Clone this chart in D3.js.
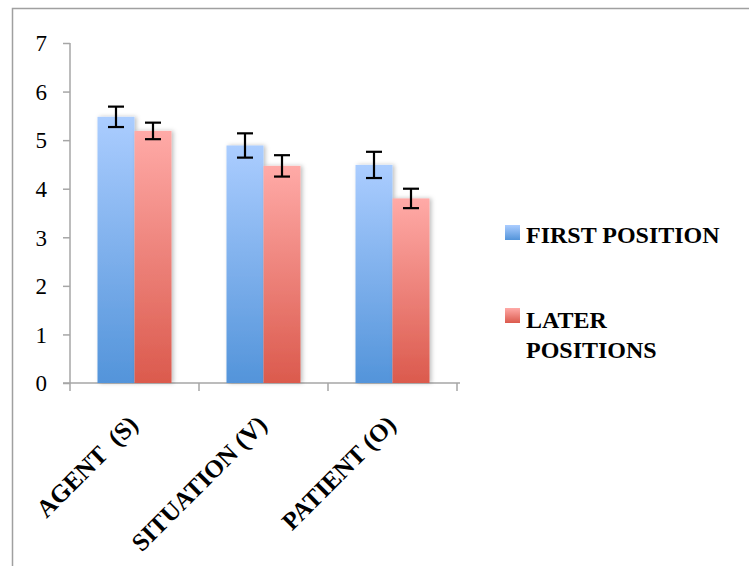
<!DOCTYPE html>
<html><head><meta charset="utf-8">
<script src="https://cdn.jsdelivr.net/npm/d3@7"></script>
<style>body{margin:0;background:#fff}svg{display:block}
text{font-family:"Liberation Serif","Times New Roman","DejaVu Serif",serif}</style>
</head><body>
<svg id="c" width="749" height="566"></svg>
<script>
const categories = ["AGENT  (S)", "SITUATION (V)", "PATIENT (O)"];
const seriesNames = ["FIRST POSITION", "LATER POSITIONS"];
const firstValues = [5.48, 4.89, 4.49];
const firstErrors = [0.21, 0.25, 0.27];
const laterValues = [5.19, 4.47, 3.80];
const laterErrors = [0.17, 0.22, 0.20];
const yTicks = [0, 1, 2, 3, 4, 5, 6, 7];

const svg = d3.select("#c");
const defs = svg.append("defs");
function grad(id, top, bottom) {
  const g = defs.append("linearGradient").attr("id", id).attr("x1", 0).attr("y1", 0).attr("x2", 0).attr("y2", 1);
  g.append("stop").attr("offset", "0%").attr("stop-color", top);
  g.append("stop").attr("offset", "100%").attr("stop-color", bottom);
}
grad("gBlue", "#abcdff", "#5394da");
grad("gRed", "#ffaaa7", "#db5a4d");
const f = defs.append("filter").attr("id", "sh").attr("x", "-20%").attr("y", "-10%").attr("width", "150%").attr("height", "120%");
f.append("feDropShadow").attr("dx", 2).attr("dy", 0).attr("stdDeviation", 2).attr("flood-color", "#000").attr("flood-opacity", 0.25);

svg.append("rect").attr("x", 12.5).attr("y", 8.5).attr("width", 800).attr("height", 600)
  .attr("fill", "none").attr("stroke", "#a0a0a0").attr("stroke-width", 1.5);

const y = d3.scaleLinear().domain([0, 7]).range([383, 43]);
const x = d3.scaleBand().domain(categories).range([70, 457]).paddingInner(0).paddingOuter(0);
const inner = d3.scaleBand().domain([0, 1]).range([0, 74]);
const axisColor = "#a6a6a6";

// y axis
const ya = svg.append("g").attr("transform", "translate(70,0)")
  .call(d3.axisLeft(y).tickValues(yTicks).tickSize(7).tickPadding(16).tickFormat(d3.format("d")));
ya.attr("font-family", null).attr("font-size", null);
ya.select(".domain").attr("stroke", axisColor).attr("stroke-width", 1.5).attr("d", "M0,383V43");
ya.selectAll(".tick line").attr("stroke", axisColor).attr("stroke-width", 1.5);
ya.selectAll(".tick text").attr("font-size", 23).attr("fill", "#000").attr("dy", "0.34em");

// x axis
const xa = svg.append("g").attr("transform", "translate(0,383)");
xa.append("line").attr("x1", 63).attr("x2", 460).attr("y1", 0).attr("y2", 0).attr("stroke", axisColor).attr("stroke-width", 1.5);
const bounds = categories.map(c => x(c)).concat([x(categories[categories.length - 1]) + x.bandwidth()]);
xa.selectAll("line.tk").data(bounds).enter().append("line").attr("class", "tk")
  .attr("x1", d => d).attr("x2", d => d).attr("y1", 0).attr("y2", 8)
  .attr("stroke", axisColor).attr("stroke-width", 1.5);

// bars
const series = [
  { vals: firstValues, errs: firstErrors, fill: "url(#gBlue)" },
  { vals: laterValues, errs: laterErrors, fill: "url(#gRed)" }
];
const groupOffset = (x.bandwidth() - 74) / 2;
series.forEach((s, si) => {
  svg.append("g").attr("filter", "url(#sh)").selectAll("rect").data(categories).enter().append("rect")
    .attr("x", c => x(c) + groupOffset + inner(si))
    .attr("y", (c, i) => y(s.vals[i]))
    .attr("width", inner.bandwidth())
    .attr("height", (c, i) => y(0) - y(s.vals[i]))
    .attr("fill", s.fill);
});
series.forEach((s, si) => {
  const eg = svg.append("g").attr("stroke", "#000").attr("stroke-width", 2.2);
  categories.forEach((c, i) => {
    const cx = x(c) + groupOffset + inner(si) + inner.bandwidth() / 2;
    const t = y(s.vals[i] + s.errs[i]), b = y(s.vals[i] - s.errs[i]);
    eg.append("line").attr("x1", cx).attr("x2", cx).attr("y1", t).attr("y2", b);
    eg.append("line").attr("x1", cx - 8).attr("x2", cx + 8).attr("y1", t).attr("y2", t);
    eg.append("line").attr("x1", cx - 8).attr("x2", cx + 8).attr("y1", b).attr("y2", b);
  });
});

// category labels
svg.append("g").selectAll("text").data(categories).enter().append("text")
  .attr("transform", c => `translate(${x(c) + x.bandwidth() / 2 + 5},426) rotate(-45)`)
  .attr("text-anchor", "end").style("white-space", "pre")
  .attr("font-weight", "bold").attr("font-size", 25)
  .attr("fill", "#000").text(c => c);

// legend
const lg = svg.append("g").attr("font-weight", "bold").attr("font-size", 24).attr("fill", "#000");
lg.append("rect").attr("x", 505).attr("y", 225).attr("width", 15).attr("height", 15).attr("fill", "url(#gBlue)");
lg.append("text").attr("x", 526).attr("y", 243).text(seriesNames[0]);
lg.append("rect").attr("x", 505).attr("y", 308).attr("width", 15).attr("height", 15).attr("fill", "url(#gRed)");
const t2 = lg.append("text").attr("x", 526).attr("y", 328);
t2.append("tspan").attr("x", 526).text(seriesNames[1].split(" ")[0]);
t2.append("tspan").attr("x", 526).attr("y", 358).text(seriesNames[1].split(" ")[1]);
</script>
</body></html>
